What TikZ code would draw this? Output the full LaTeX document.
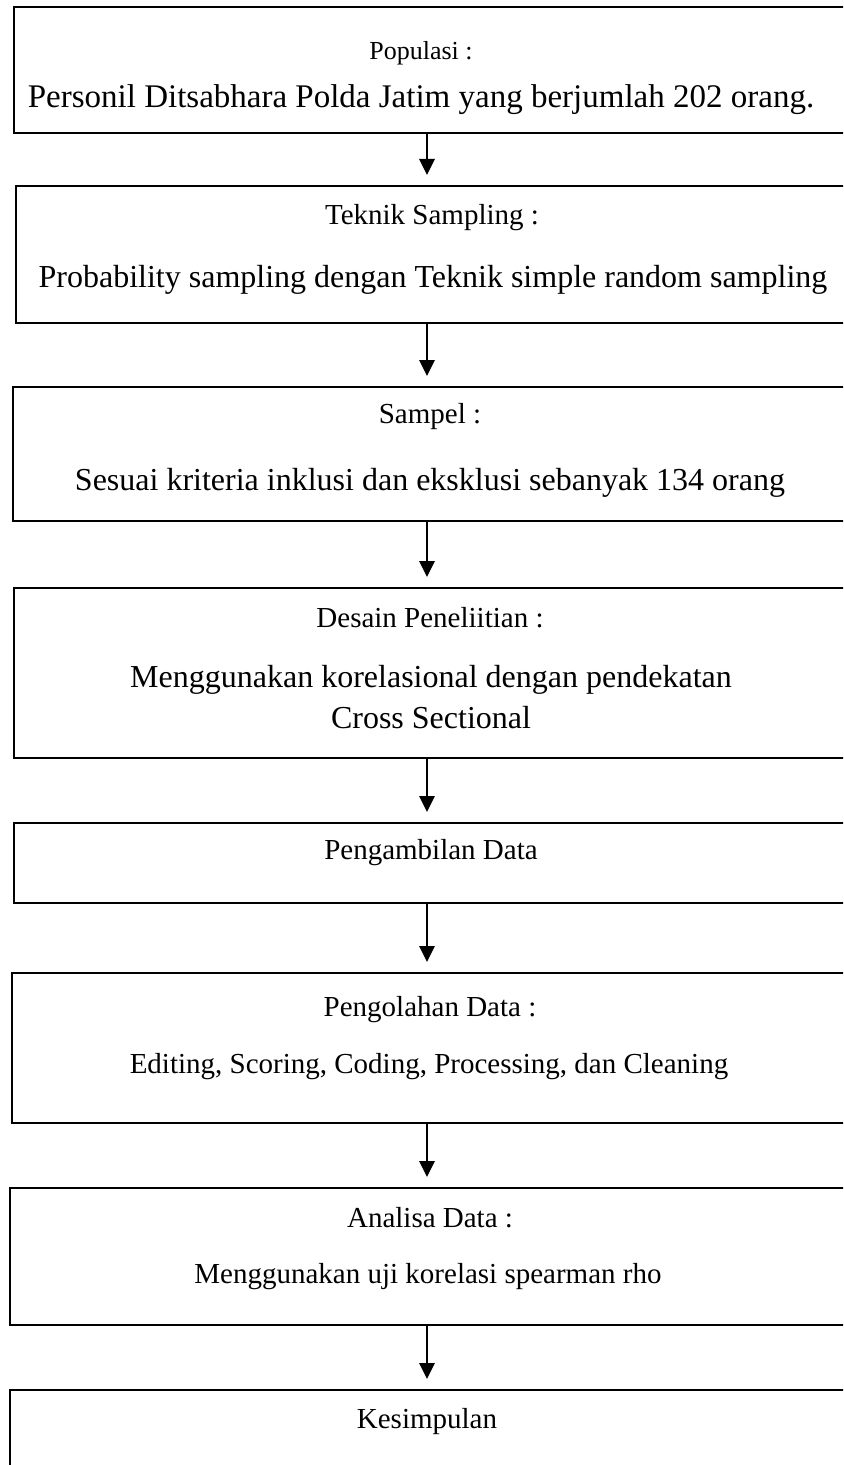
\documentclass[tikz,border=0pt]{standalone}
\usepackage{fontspec}
\setmainfont{Liberation Serif}
\usetikzlibrary{arrows.meta}
\begin{document}
\begin{tikzpicture}[x=0.5pt,y=-0.5pt,
  boxst/.style={draw=black, line width=1pt, rectangle, inner sep=0pt, outer sep=0pt},
  ttlsmall/.style={font=\fontsize{13}{15}\selectfont, inner sep=0pt},
  ttl/.style={font=\fontsize{14.5}{17}\selectfont, inner sep=0pt},
  mainln/.style={font=\fontsize{16}{19}\selectfont, inner sep=0pt},
  arr/.style={line width=1.35pt, -{Triangle[width=7.5pt,length=8pt]}, shorten >=5.5pt}]
\clip (0,0) rectangle (843,1465);
\fill[white] (0,0) rectangle (843,1465);
\coordinate (ax) at (427,0);
% boxes
\node[boxst, minimum width=423pt, minimum height=63pt]   (b1) at (437,70) {};
\node[boxst, minimum width=422pt, minimum height=68.5pt] (b2) at (438,254.5) {};
\node[boxst, minimum width=423.5pt, minimum height=67pt] (b3) at (436.5,454) {};
\node[boxst, minimum width=423pt, minimum height=85pt]   (b4) at (437,673) {};
\node[boxst, minimum width=423pt, minimum height=40pt]   (b5) at (437,863) {};
\node[boxst, minimum width=424pt, minimum height=75pt]   (b6) at (436,1048) {};
\node[boxst, minimum width=425pt, minimum height=68.5pt] (b7) at (435,1256.5) {};
\node[boxst, minimum width=425pt, minimum height=55pt]   (b8) at (435,1445) {};
% texts
\node[ttlsmall] (t1a) at (421,53) {Populasi :};
\node[mainln, font=\fontsize{16.5}{19}\selectfont] (t1b) at (421,100) {Personil Ditsabhara Polda Jatim yang berjumlah 202 orang.};
\node[ttl] (t2a) at (432,218) {Teknik Sampling :};
\node[mainln] (t2b) at (433,280) {Probability sampling dengan Teknik simple random sampling};
\node[ttl] (t3a) at (430,417) {Sampel :};
\node[mainln] (t3b) at (430,483) {Sesuai kriteria inklusi dan eksklusi sebanyak 134 orang};
\node[ttl] (t4a) at (430,618) {Desain Peneliitian :};
\node[mainln] (t4b) at (431,680) {Menggunakan korelasional dengan pendekatan};
\node[mainln] (t4c) at (431,718) {Cross Sectional};
\node[ttl] (t5a) at (431,853) {Pengambilan Data};
\node[ttl] (t6a) at (430,1010) {Pengolahan Data :};
\node[ttl] (t6b) at (429,1067) {Editing, Scoring, Coding, Processing, dan Cleaning};
\node[ttl] (t7a) at (430,1218) {Analisa Data :};
\node[ttl] (t7b) at (428,1277) {Menggunakan uji korelasi spearman rho};
\node[ttl] (t8a) at (427,1422) {Kesimpulan};
% connectors
\draw[arr] (b1.south -| ax) -- (b2.north -| ax);
\draw[arr] (b2.south -| ax) -- (b3.north -| ax);
\draw[arr] (b3.south -| ax) -- (b4.north -| ax);
\draw[arr] (b4.south -| ax) -- (b5.north -| ax);
\draw[arr] (b5.south -| ax) -- (b6.north -| ax);
\draw[arr] (b6.south -| ax) -- (b7.north -| ax);
\draw[arr] (b7.south -| ax) -- (b8.north -| ax);
\end{tikzpicture}
\end{document}
